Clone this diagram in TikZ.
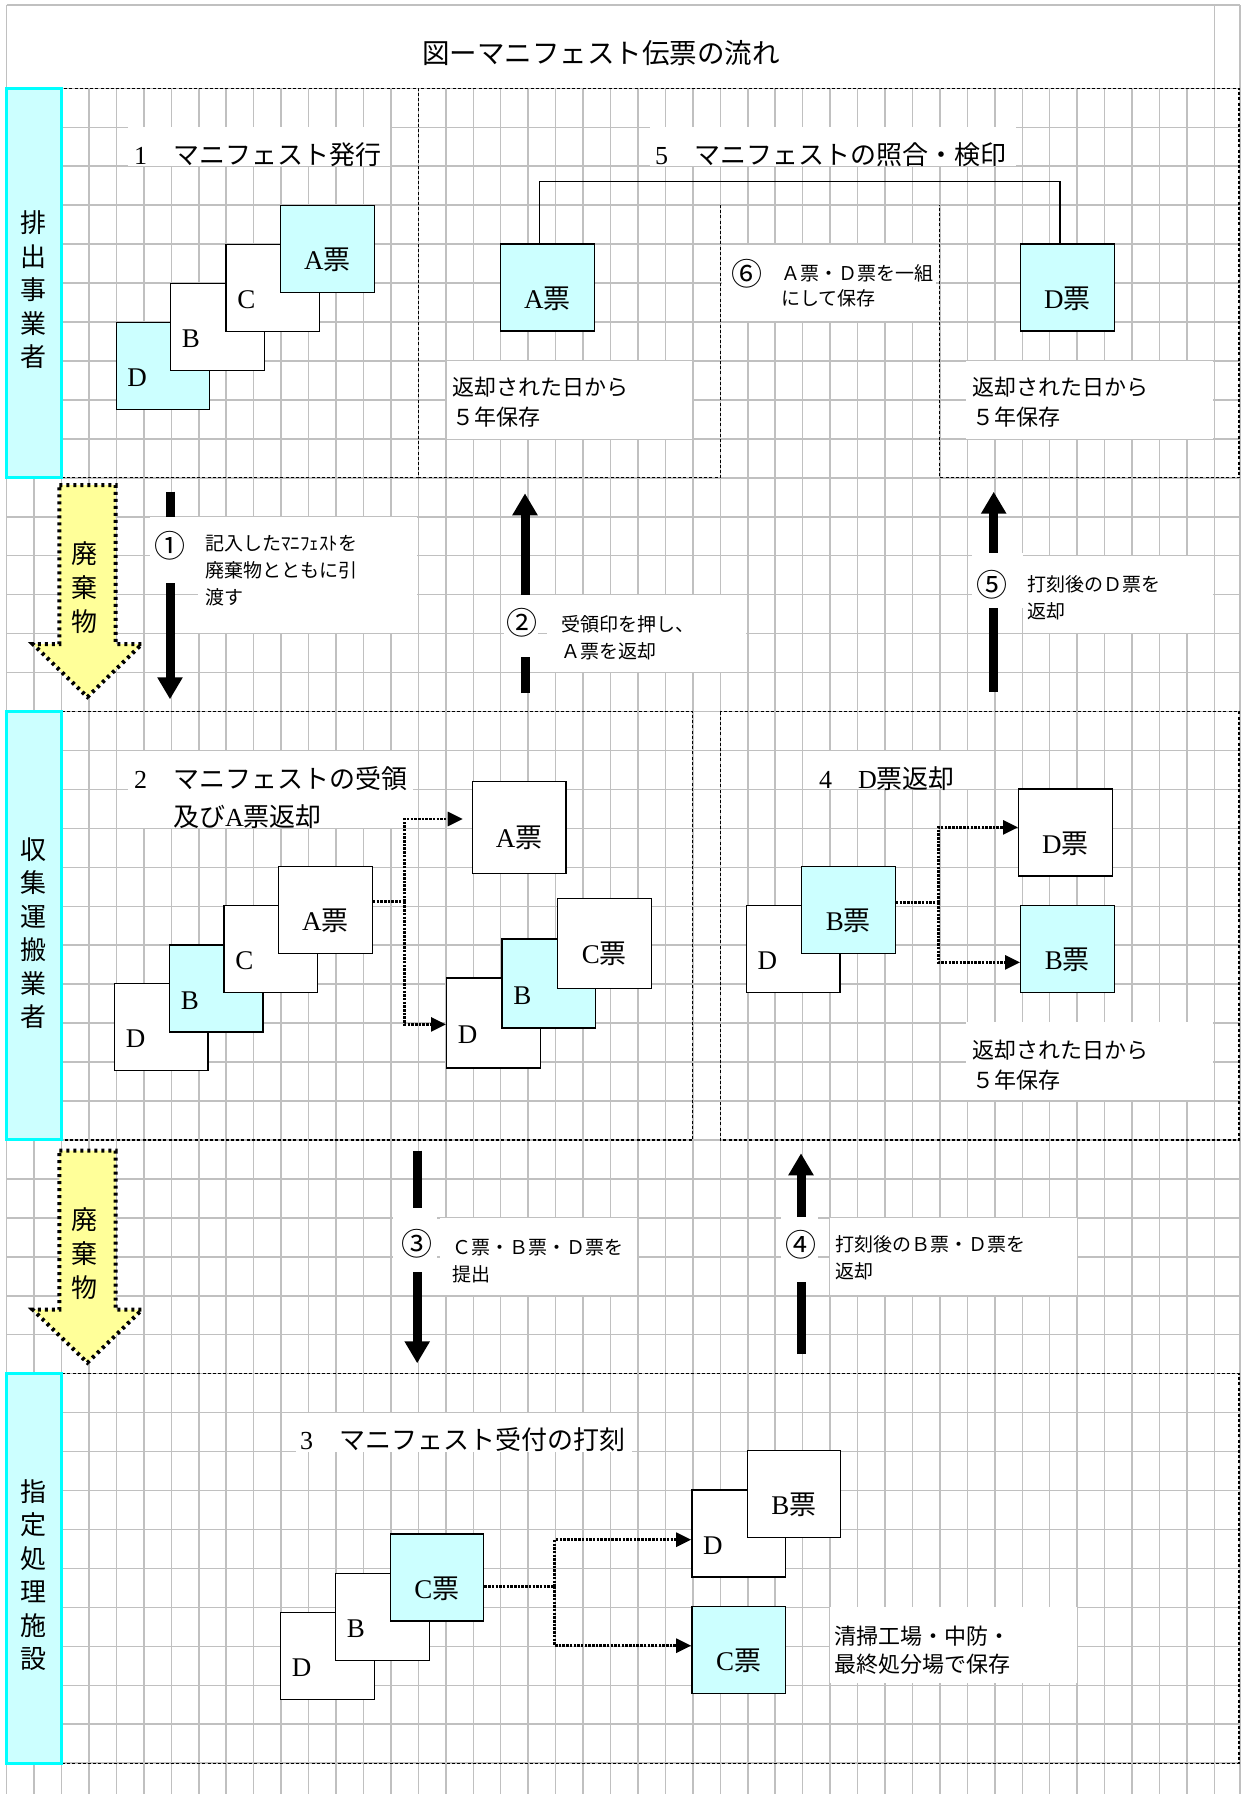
\documentclass[tikz,border=0pt]{standalone}
\usepackage{fontspec}
\setmainfont{Liberation Serif}
\newfontfamily\jpfont{Noto Sans CJK JP}
\usetikzlibrary{arrows.meta}
\XeTeXinterchartokenstate=1
\chardef\jpclass=10
\newcount\jpcnt
\def\jpsetrange#1#2{\jpcnt=#1\relax
  \loop\XeTeXcharclass\jpcnt=\jpclass\relax
  \advance\jpcnt by 1\relax
  \ifnum\jpcnt<#2\relax\repeat}
\jpsetrange{"2460}{"2500}
\jpsetrange{"3000}{"A000}
\jpsetrange{"FF00}{"FFF0}
\XeTeXinterchartoks 0 \jpclass = {\jpfont}
\XeTeXinterchartoks 4095 \jpclass = {\jpfont}
\XeTeXinterchartoks \jpclass 0 = {\rmfamily}
\XeTeXinterchartoks \jpclass 4095 = {\rmfamily}
\definecolor{gridc}{HTML}{C0C0C0}
\definecolor{tcyan}{HTML}{CCFFFF}
\definecolor{lanecy}{HTML}{00FFFF}
\definecolor{yel}{HTML}{FFFF99}
\newcommand\fTitle{\fontsize{27.5}{32}\selectfont}
\newcommand\fSec{\fontsize{26}{38.5}\selectfont}
\newcommand\fTk{\fontsize{27}{30}\selectfont}
\newcommand\fSm{\fontsize{19}{27}\selectfont}
\newcommand\fSix{\fontsize{19}{25}\selectfont}
\newcommand\fMd{\fontsize{22}{30}\selectfont}
\newcommand\fMdb{\fontsize{22}{27.5}\selectfont}
\newcommand\fNum{\fontsize{31}{34}\selectfont}
\newcommand\fLane{\fontsize{26}{33.5}\selectfont}
\newcommand\fWaste{\fontsize{26}{34}\selectfont}
\begin{document}
\begin{tikzpicture}[x=1pt,y=-1pt,
  gridl/.style={draw=gridc, line width=1.5pt},
  secb/.style={draw=black, line width=1.1pt, dash pattern=on 3pt off 2.2pt},
  lane/.style={draw=lanecy, fill=tcyan, line width=3pt, minimum width=54.9pt, inner sep=0pt},
  lanetxt/.style={inner sep=0pt, align=center, font=\fLane},
  tk/.style={draw=black, line width=1.4pt, minimum width=93.5pt, minimum height=87pt, inner sep=0pt, anchor=north west, text height=45pt, text depth=4pt, font=\fTk},
  tkl/.style={tk, text width=71pt, align=left},
  cy/.style={fill=tcyan}, wh/.style={fill=white},
  bigarr/.style={line width=9pt, -{Triangle[length=22pt,width=24pt]}},
  dotc/.style={line width=2.8pt, dash pattern=on 2.5pt off 1.2pt},
  dotarr/.style={dotc, -{Triangle[length=15pt,width=14pt]}},
  conn/.style={line width=1.4pt},
  sectitle/.style={anchor=west, inner sep=0pt, font=\fSec, align=left},
  num/.style={inner sep=0pt, font=\fNum},
  sm/.style={anchor=west, inner sep=0pt, font=\fSm, align=left},
  md/.style={anchor=west, inner sep=0pt, font=\fMd, align=left},
  yarrow/.style={fill=yel, draw=black, line width=4pt, dash pattern=on 3pt off 4pt},
]
\useasboundingbox (0,0) rectangle (1241,1794);
% ---------- grid ----------
\foreach \k in {1,...,43} \draw[gridl] ({6.6+27.45*\k},88.3) -- ({6.6+27.45*\k},1794);
\draw[gridl] (6.6,5) -- (6.6,1794);
\draw[gridl] (1214.4,5) -- (1214.4,1794);
\draw[gridl] (1240.2,5) -- (1240.2,1794);
\draw[gridl] (6.6,5) -- (1240.2,5);
\foreach \j in {0,...,43} \draw[gridl] (6.6,{88.3+38.95*\j}) -- (1241,{88.3+38.95*\j});
% ---------- title ----------
\node[font=\fTitle, inner sep=0pt] (title) at (601,53) {図ーマニフェスト伝票の流れ};
% ---------- white backgrounds of texts ----------
\fill[white] (128,127) rectangle (390,165.5);
\fill[white] (650,127) rectangle (1016,165.5);
\fill[white] (128,750.5) rectangle (413,828);
\fill[white] (815,750.5) rectangle (970,789);
\fill[white] (296,1413) rectangle (632,1451.5);
\fill[white] (197.7,516.7) rectangle (417,632.7);
\fill[white] (547,595) rectangle (746,672);
\fill[white] (1023,556) rectangle (1213,633);
\fill[white] (440,1218) rectangle (637,1295);
\fill[white] (829.6,1218) rectangle (1076.7,1295);
\fill[white] (722,245) rectangle (936,321);
\fill[white] (447,361) rectangle (692,439);
\fill[white] (966,361) rectangle (1213,439);
\fill[white] (966,1022) rectangle (1213,1100);
\fill[white] (829.6,1607) rectangle (1076.7,1683);
% ---------- section borders ----------
\draw[secb] (61.5,88.3) rectangle (418.4,477.8);
\draw[secb] (720.3,205) -- (720.3,477.8) -- (418.4,477.8) -- (418.4,88.3) -- (1239,88.3) -- (1239,477.8) -- (939.9,477.8) -- (939.9,205);
\draw[secb] (61.5,711.5) rectangle (692.9,1140);
\draw[secb] (720.3,711.5) rectangle (1239,1140);
\draw[secb] (61.5,1373.7) rectangle (1239,1763.2);
% ---------- lanes ----------
\node[lane, minimum height=389.5pt] (lane1) at (34,283) {};
\node[lane, minimum height=428.5pt] (lane2) at (34,925.7) {};
\node[lane, minimum height=389.5pt] (lane3) at (34,1568.4) {};
\node[lanetxt] (lane1t) at (33,290) {排\\出\\事\\業\\者};
\node[lanetxt] (lane2t) at (33,933) {収\\集\\運\\搬\\業\\者};
\node[lanetxt] (lane3t) at (33,1575) {指\\定\\処\\理\\施\\設};
% ---------- waste arrows ----------
\draw[yarrow, shift={(0,485)}] (59.3,0) -- (115.5,0) -- (115.5,159) -- (142,159) -- (87.4,212) -- (32.8,159) -- (59.3,159) -- cycle;
\draw[yarrow, shift={(0,1150.7)}] (59.3,0) -- (115.5,0) -- (115.5,159) -- (142,159) -- (87.4,212) -- (32.8,159) -- (59.3,159) -- cycle;
\node[lanetxt, font=\fWaste] (waste1) at (84,588) {廃\\棄\\物};
\node[lanetxt, font=\fWaste] (waste2) at (84,1254) {廃\\棄\\物};
% ---------- big arrows ----------
\coordinate (a1s) at (170,491.7); \coordinate (a1e) at (170,699.3);
\coordinate (a2s) at (525,693);   \coordinate (a2e) at (525,493.3);
\coordinate (a5s) at (993.7,691.7); \coordinate (a5e) at (993.7,491.7);
\coordinate (a3s) at (417.2,1150.7); \coordinate (a3e) at (417.2,1363.3);
\coordinate (a4s) at (801,1354); \coordinate (a4e) at (801,1153.3);
\draw[bigarr] (a1s) -- (a1e);
\draw[bigarr] (a2s) -- (a2e);
\draw[bigarr] (a5s) -- (a5e);
\draw[bigarr] (a3s) -- (a3e);
\draw[bigarr] (a4s) -- (a4e);
% ---------- number boxes ----------
\fill[white] (149.5,516.7) rectangle (197.7,583.3);
\fill[white] (504,595) rectangle (538,657);
\fill[white] (972,553) rectangle (1023,608);
\fill[white] (393.4,1207.7) rectangle (437,1271.7);
\fill[white] (781.3,1216.7) rectangle (818,1281.7);
\node[num] (n1) at (170,546) {①};
\node[num] (n2) at (522,623) {②};
\node[num] (n5) at (991.7,585) {⑤};
\node[num] (n3) at (417,1243.3) {③};
\node[num] (n4) at (801,1245) {④};
\node[num] (n6) at (746.5,273.3) {⑥};
% ---------- texts ----------
\node[sectitle] (t1) at (134,155) {1　マニフェスト発行};
\node[sectitle] (t5) at (655,155) {5　マニフェストの照合・検印};
\node[sectitle] (t2) at (134,797.5) {2　マニフェストの受領\\\hspace*{39pt}及びA票返却};
\node[sectitle] (t4) at (819,778.3) {4　D票返却};
\node[sectitle] (t3) at (300,1440) {3　マニフェスト受付の打刻};
\node[sm] (d1) at (204.8,571) {記入したﾏﾆﾌｪｽﾄを\\廃棄物とともに引\\渡す};
\node[sm] (d2) at (561.5,638) {受領印を押し、\\Ａ票を返却};
\node[sm] (d5) at (1027,598) {打刻後のＤ票を\\返却};
\node[sm] (d3) at (452.7,1261) {Ｃ票・Ｂ票・Ｄ票を\\提出};
\node[sm] (d4) at (835.5,1258) {打刻後のＢ票・Ｄ票を\\返却};
\node[sm, font=\fSix] (d6) at (781.3,286) {Ａ票・Ｄ票を一組\\にして保存};
\node[md] (r1) at (452,401.7) {返却された日から\\５年保存};
\node[md] (r2) at (972,402) {返却された日から\\５年保存};
\node[md] (r3) at (972,1065) {返却された日から\\５年保存};
\node[md, font=\fMdb] (keep) at (834.7,1650) {清掃工場・中防・\\最終処分場で保存};
% ---------- section 1 tickets ----------
\node[tkl, cy] (s1D) at (115.5,322) {D};
\node[tkl, wh] (s1B) at (170,283) {B};
\node[tkl, wh] (s1C) at (225.4,244) {C};
\node[tk, cy]  (s1A) at (280,205) {A票};
% ---------- section 5 ----------
\node[tk, cy] (s5A) at (500,243.3) {A票};
\node[tk, cy] (s5D) at (1020,243.3) {D票};
\draw[conn] ([xshift=39.7pt]s5A.north west) -- ++(0,-61.6) -| ([xshift=40pt]s5D.north west);
% ---------- section 2 ----------
\node[tkl, wh] (s2D) at (113.9,982.7) {D};
\node[tkl, cy] (s2B) at (168.8,944.3) {B};
\node[tkl, wh] (s2C) at (223.4,905) {C};
\node[tk, wh]  (s2A) at (278,866) {A票};
\node[tk, wh, minimum height=92pt] (s2Ar) at (471.7,780.7) {A票};
\node[tkl, wh, minimum height=90pt] (s2Dr) at (446,977.3) {D};
\node[tkl, cy, minimum height=89pt] (s2Br) at (501.4,938.3) {B};
\node[tk, wh, minimum height=90pt]  (s2Cr) at (557,897.7) {C票};
\draw[dotc] ([yshift=8.5pt]s2A.east) -- ++(31.6,0) coordinate (j2);
\draw[dotarr, shorten >=9pt] (j2) |- ([yshift=8.4pt]s2Ar.west);
\draw[dotarr] (j2) |- ([yshift=-1.4pt]s2Dr.west);
% ---------- section 4 ----------
\node[tkl, wh] (s4D) at (745.7,905) {D};
\node[tk, cy]  (s4B) at (801,866) {B票};
\node[tk, wh]  (s4Dr) at (1018,788.3) {D票};
\node[tk, cy]  (s4Br) at (1020,905) {B票};
\draw[dotc] ([yshift=7.8pt]s4B.east) -- ++(42.3,0) coordinate (j4);
\draw[dotarr] (j4) |- ([yshift=5.1pt]s4Dr.west);
\draw[dotarr] (j4) |- ([yshift=-13.2pt]s4Br.west);
% ---------- section 3 ----------
\node[tkl, wh] (s3D) at (280,1611.7) {D};
\node[tkl, wh] (s3B) at (335,1572.7) {B};
\node[tk, cy]  (s3C) at (389.5,1533.3) {C票};
\node[tkl, wh] (s3Dr) at (691.2,1489.3) {D};
\node[tk, wh]  (s3Br) at (746.5,1450) {B票};
\node[tk, cy]  (s3Cr) at (691.2,1606) {C票};
\draw[dotc] ([yshift=-9.2pt]s3C.east) -- ++(70.4,0) coordinate (j3);
\draw[dotarr] (j3) |- ([yshift=-6.2pt]s3Dr.west);
\draw[dotarr] (j3) |- ([yshift=4.5pt]s3Cr.west);
\end{tikzpicture}
\end{document}
